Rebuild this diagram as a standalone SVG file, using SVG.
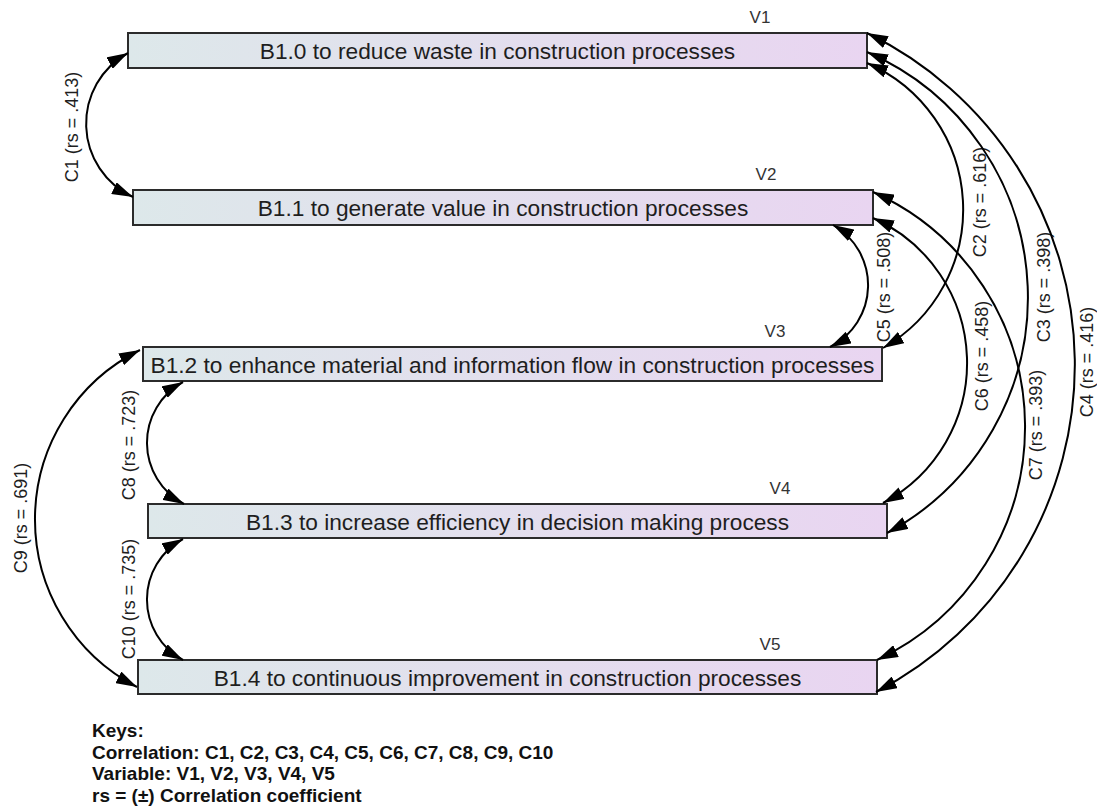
<svg xmlns="http://www.w3.org/2000/svg" width="1097" height="812" viewBox="0 0 1097 812">
  <defs>
    <linearGradient id="boxFill" x1="0" y1="0" x2="1" y2="0">
      <stop offset="0" stop-color="#dde8ea"/>
      <stop offset="1" stop-color="#e9d5f1"/>
    </linearGradient>
    <marker id="head" markerUnits="userSpaceOnUse" markerWidth="22" markerHeight="13" refX="21" refY="6.5" orient="auto-start-reverse" viewBox="0 0 22 13">
      <path d="M0,0 L21,6.5 L0,13 z" fill="#000"/>
    </marker>
    <style>
      .box { fill: url(#boxFill); stroke: #2b2b2b; stroke-width: 2; }
      .boxText { font-family: "Liberation Sans", Arial, sans-serif; font-size: 22.7px; fill: #1e1e1e; text-anchor: middle; }
      .var { font-family: "Liberation Sans", Arial, sans-serif; font-size: 17px; fill: #333; text-anchor: middle; }
      .arc { fill: none; stroke: #000; stroke-width: 2; marker-start: url(#head); marker-end: url(#head); }
      .lbl { font-family: "Liberation Sans", Arial, sans-serif; font-size: 18px; fill: #1e1e1e; text-anchor: middle; dominant-baseline: central; }
      .key { font-family: "Liberation Sans", Arial, sans-serif; font-size: 19px; font-weight: bold; fill: #111; }
    </style>
  </defs>

  <rect width="1097" height="812" fill="#fff"/>

  <!-- variables -->
  <g id="v1">
    <rect class="box" x="128" y="33" width="739" height="35"/>
    <text class="boxText" x="497.5" y="59">B1.0 to reduce waste in construction processes</text>
    <text class="var" x="760" y="23">V1</text>
  </g>
  <g id="v2">
    <rect class="box" x="133" y="190" width="740" height="35"/>
    <text class="boxText" x="503" y="216">B1.1 to generate value in construction processes</text>
    <text class="var" x="766" y="180">V2</text>
  </g>
  <g id="v3">
    <rect class="box" x="143" y="347" width="739" height="34"/>
    <text class="boxText" x="512.5" y="372.5">B1.2 to enhance material and information flow in construction processes</text>
    <text class="var" x="775" y="337">V3</text>
  </g>
  <g id="v4">
    <rect class="box" x="148" y="504" width="739" height="34"/>
    <text class="boxText" x="517.5" y="529.5">B1.3 to increase efficiency in decision making process</text>
    <text class="var" x="780" y="494">V4</text>
  </g>
  <g id="v5">
    <rect class="box" x="138" y="660" width="739" height="34"/>
    <text class="boxText" x="507.5" y="685.5">B1.4 to continuous improvement in construction processes</text>
    <text class="var" x="770" y="650">V5</text>
  </g>

  <!-- correlations (double-headed arcs) -->
  <g id="connectors">
    <g id="c1">
      <path class="arc" d="M128,53 A80.7,80.7 0 0 0 133,197"/>
      <text class="lbl" transform="translate(72,127) rotate(-90)">C1 (rs = .413)</text>
    </g>
    <g id="c2">
      <path class="arc" d="M867,63 A159.7,159.7 0 0 1 883,348"/>
      <text class="lbl" transform="translate(980,202) rotate(-90)">C2 (rs = .616)</text>
    </g>
    <g id="c3">
      <path class="arc" d="M867,52 A267.5,267.5 0 0 1 887,533"/>
      <text class="lbl" transform="translate(1044,287) rotate(-90)">C3 (rs = .398)</text>
    </g>
    <g id="c4">
      <path class="arc" d="M867,33 A368.7,368.7 0 0 1 876,692"/>
      <text class="lbl" transform="translate(1087,362) rotate(-90)">C4 (rs = .416)</text>
    </g>
    <g id="c5">
      <path class="arc" d="M833,225 A69.2,69.2 0 0 1 830,347"/>
      <text class="lbl" transform="translate(884,287) rotate(-90)">C5 (rs = .508)</text>
    </g>
    <g id="c6">
      <path class="arc" d="M873,218 A158.7,158.7 0 0 1 883,503"/>
      <text class="lbl" transform="translate(982,356) rotate(-90)">C6 (rs = .458)</text>
    </g>
    <g id="c7">
      <path class="arc" d="M873,192 A257.5,257.5 0 0 1 877,660"/>
      <text class="lbl" transform="translate(1036,425) rotate(-90)">C7 (rs = .393)</text>
    </g>
    <g id="c8">
      <path class="arc" d="M183,382 A69.2,69.2 0 0 0 184,504"/>
      <text class="lbl" transform="translate(129,445) rotate(-90)">C8 (rs = .723)</text>
    </g>
    <g id="c9">
      <path class="arc" d="M140,350 A188.9,188.9 0 0 0 137,687"/>
      <text class="lbl" transform="translate(21,518) rotate(-90)">C9 (rs = .691)</text>
    </g>
    <g id="c10">
      <path class="arc" d="M183,539 A68.8,68.8 0 0 0 183,660"/>
      <text class="lbl" transform="translate(129,599) rotate(-90)">C10 (rs = .735)</text>
    </g>
  </g>

  <!-- legend -->
  <g id="keys">
    <text class="key" x="92" y="737">Keys:</text>
    <text class="key" x="92" y="758.5">Correlation: C1, C2, C3, C4, C5, C6, C7, C8, C9, C10</text>
    <text class="key" x="92" y="780">Variable: V1, V2, V3, V4, V5</text>
    <text class="key" x="92" y="801.5">rs = (±) Correlation coefficient</text>
  </g>
</svg>
